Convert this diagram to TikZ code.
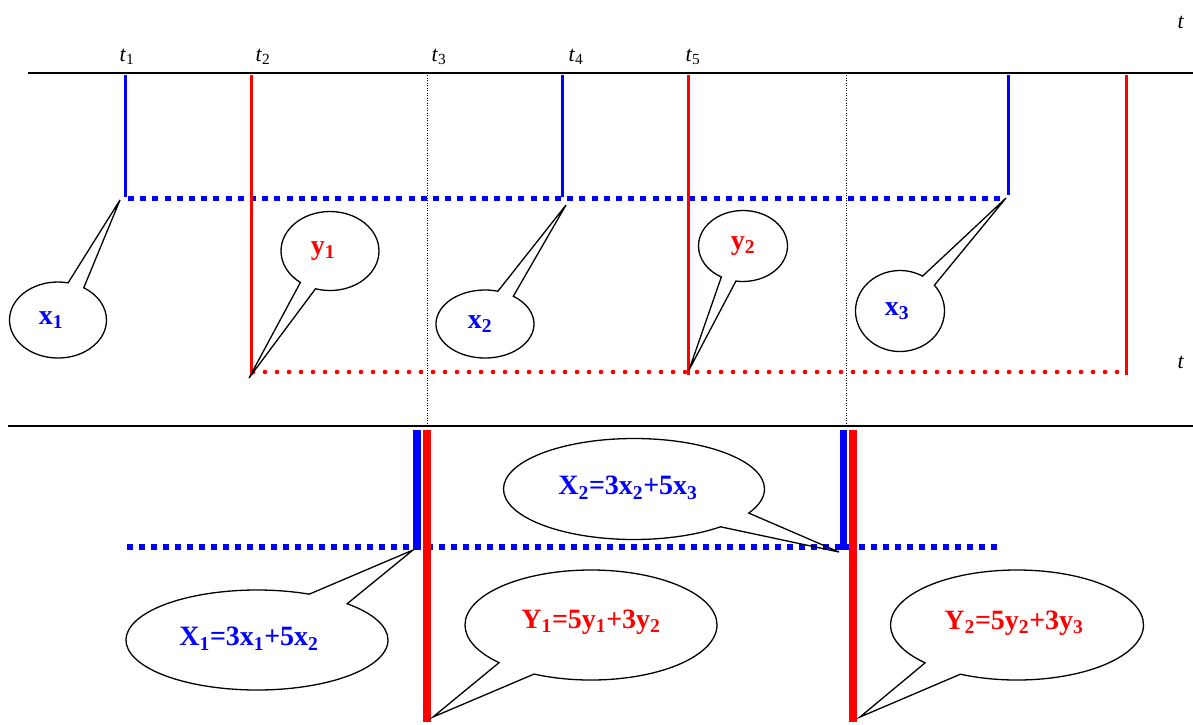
\documentclass[tikz,border=0pt]{standalone}
\usepackage{fontspec}
\setmainfont{Liberation Serif}
\usetikzlibrary{shapes.callouts}
\begin{document}
\begin{tikzpicture}[x=1pt,y=-1pt,
  axis/.style={line width=1.6pt},
  gridv/.style={line width=0.8pt, dash pattern=on 1pt off 1.5pt},
  bluev/.style={blue, line width=3pt},
  redv/.style={red, line width=3pt},
  bluedots/.style={blue, line width=5pt, dash pattern=on 6pt off 6.2pt},
  reddots/.style={red, line width=4.6pt, line cap=round, dash pattern=on 0pt off 12pt},
  bluebar/.style={blue, line width=7.5pt},
  redbar/.style={red, line width=8pt},
  tlab/.style={font=\fontsize{22}{24}\selectfont, inner sep=0pt},
  bubble/.style={ellipse callout, draw, line width=1.3pt, inner sep=0pt,
    callout pointer arc=20, font=\fontsize{28}{30}\selectfont\bfseries},
]
\useasboundingbox (0,0) rectangle (1193,724);
% axes
\coordinate (a0) at (28,73); \coordinate (a1) at (1193,73);
\coordinate (b0) at (8,426); \coordinate (b1) at (1193,426);
\draw[axis] (a0) -- (a1);
\draw[axis] (b0) -- (b1);
% grid verticals
\coordinate (g1t) at (427,75); \coordinate (g1b) at (427,425);
\coordinate (g2t) at (846,75); \coordinate (g2b) at (846,425);
\draw[gridv] (g1t) -- (g1b);
\draw[gridv] (g2t) -- (g2b);
% labels
\node[tlab] (t1) at (127,57) {\textit{t}\textsubscript{1}};
\node[tlab] (t2) at (263,57) {\textit{t}\textsubscript{2}};
\node[tlab] (t3) at (439,57) {\textit{t}\textsubscript{3}};
\node[tlab] (t4) at (576,57) {\textit{t}\textsubscript{4}};
\node[tlab] (t5) at (693,57) {\textit{t}\textsubscript{5}};
\node[tlab] (tt) at (1181,22) {\textit{t}};
\node[tlab] (tb) at (1181,362) {\textit{t}};
% blue verticals
\coordinate (x1t) at (125,75); \coordinate (x1b) at (125,197);
\coordinate (x2t) at (562,75); \coordinate (x2b) at (562,197);
\coordinate (x3t) at (1008,75); \coordinate (x3b) at (1008,195);
\draw[bluev] (x1t) -- (x1b);
\draw[bluev] (x2t) -- (x2b);
\draw[bluev] (x3t) -- (x3b);
\coordinate (bd0) at (128,198); \coordinate (bd1) at (1000,198);
\draw[bluedots] (bd0) -- (bd1);
% red verticals
\coordinate (y1t) at (251,75); \coordinate (y1b) at (251,375);
\coordinate (y2t) at (688,75); \coordinate (y2b) at (688,375);
\coordinate (y3t) at (1126,75); \coordinate (y3b) at (1126,375);
\draw[redv] (y1t) -- (y1b);
\draw[redv] (y2t) -- (y2b);
\draw[redv] (y3t) -- (y3b);
\coordinate (rd0) at (253,372); \coordinate (rd1) at (1122,372);
\draw[reddots] (rd0) -- (rd1);
% bottom
\coordinate (BX1t) at (417,430); \coordinate (BX1b) at (417,549);
\coordinate (BX2t) at (843.5,430); \coordinate (BX2b) at (843.5,550);
\coordinate (BY1t) at (427,430); \coordinate (BY1b) at (427,722);
\coordinate (BY2t) at (853,430); \coordinate (BY2b) at (853,722);
\coordinate (bb0) at (127,547); \coordinate (bb1) at (997,547);
\draw[bluedots, line width=5.5pt, dash pattern=on 6pt off 6pt] (bb0) -- (bb1);
\draw[bluebar] (BX1t) -- (BX1b);
\draw[bluebar] (BX2t) -- (BX2b);
\draw[redbar] (BY1t) -- (BY1b);
\draw[redbar] (BY2t) -- (BY2b);
% pointer tips
\coordinate (p1) at (120,200);
\coordinate (p2) at (249,378);
\coordinate (p3) at (566,205);
\coordinate (p4) at (689,370);
\coordinate (p5) at (1006,198);
\coordinate (P1) at (413,550);
\coordinate (P2) at (433,717);
\coordinate (P3) at (839,552);
\coordinate (P4) at (860,717);
% callouts
\node[bubble, minimum width=97pt, minimum height=76pt, callout absolute pointer={(p1)}, text=blue] (cx1) at (58,320) {\hspace*{-14pt}\raisebox{-5pt}{x\textsubscript{1}}};
\node[bubble, minimum width=98pt, minimum height=79pt, callout absolute pointer={(p2)}, text=red] (cy1) at (330,251) {\hspace*{-14pt}\raisebox{-6pt}{y\textsubscript{1}}};
\node[bubble, minimum width=98pt, minimum height=68pt, callout absolute pointer={(p3)}, text=blue] (cx2) at (485,324) {\hspace*{-10pt}x\textsubscript{2}};
\node[bubble, minimum width=89pt, minimum height=71pt, callout absolute pointer={(p4)}, text=red] (cy2) at (743,246) {\raisebox{-6pt}{y\textsubscript{2}}};
\node[bubble, minimum width=89pt, minimum height=81pt, callout absolute pointer={(p5)}, text=blue] (cx3) at (900,311) {\hspace*{-6pt}\raisebox{-4pt}{x\textsubscript{3}}};
\node[bubble, minimum width=262pt, minimum height=100pt, callout absolute pointer={(P1)}, text=blue] (cX1) at (257,640) {\hspace*{-16pt}\raisebox{7pt}{X\textsubscript{1}=3x\textsubscript{1}+5x\textsubscript{2}}};
\node[bubble, minimum width=252pt, minimum height=110pt, callout absolute pointer={(P2)}, text=red] (cY1) at (591,625) {\raisebox{12pt}{Y\textsubscript{1}=5y\textsubscript{1}+3y\textsubscript{2}}};
\node[bubble, minimum width=261pt, minimum height=101pt, callout absolute pointer={(P3)}, text=blue] (cX2) at (634,489) {\hspace*{-12pt}\raisebox{7pt}{X\textsubscript{2}=3x\textsubscript{2}+5x\textsubscript{3}}};
\node[bubble, minimum width=253pt, minimum height=110pt, callout absolute pointer={(P4)}, text=red] (cY2) at (1017,625) {\hspace*{-6pt}\raisebox{10pt}{Y\textsubscript{2}=5y\textsubscript{2}+3y\textsubscript{3}}};
\end{tikzpicture}
\end{document}
